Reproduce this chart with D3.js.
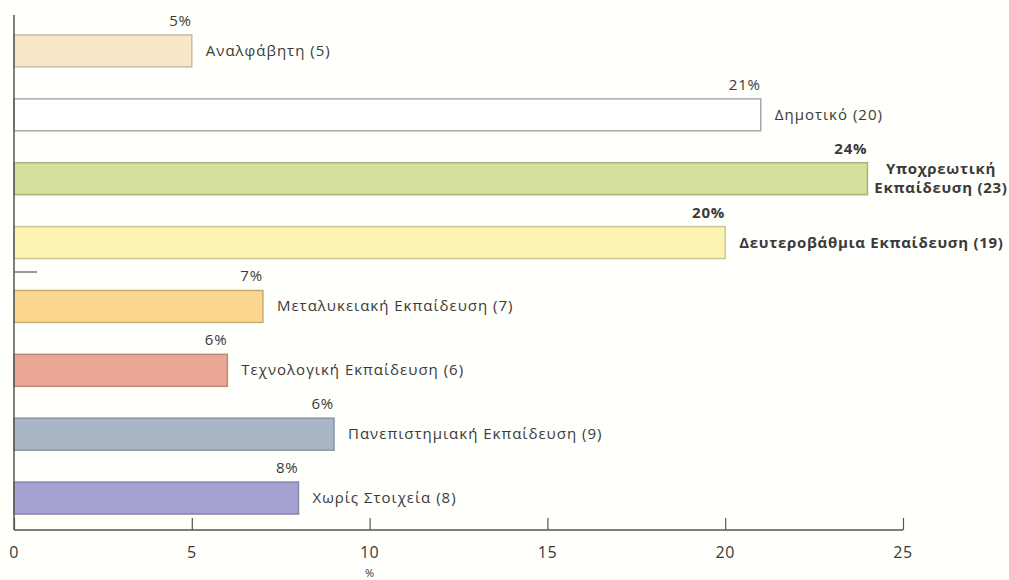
<!DOCTYPE html>
<html>
<head>
<meta charset="utf-8">
<script src="https://cdn.jsdelivr.net/npm/d3@7"></script>
<style>
  body { margin: 0; background: #fffffb; }
  text { font-family: "Open Sans", "Noto Sans", sans-serif; fill: #3a3a3a; }
</style>
</head>
<body>
<div id="vis1"></div>
<script>
// data
var categories = ["Αναλφάβητη (5)", "Δημοτικό (20)", "Υποχρεωτική Εκπαίδευση (23)",
  "Δευτεροβάθμια Εκπαίδευση (19)", "Μεταλυκειακή Εκπαίδευση (7)", "Τεχνολογική Εκπαίδευση (6)",
  "Πανεπιστημιακή Εκπαίδευση (9)", "Χωρίς Στοιχεία (8)"];
var values = [5, 21, 24, 20, 7, 6, 9, 8];
var pctLabels = ["5%", "21%", "24%", "20%", "7%", "6%", "6%", "8%"];
var boldRows = [false, false, true, true, false, false, false, false];
var xTicks = [0, 5, 10, 15, 20, 25];

var fills = ["#fae7c9", "#ffffff", "#d6e09c", "#fdf3b2", "#fdd78f", "#eba796", "#aab5c6", "#a5a1d1"];
var strokes = ["#c9bba6", "#a9a9a9", "#a9b27b", "#cfc68e", "#c8ab73", "#bf8878", "#8b94a3", "#8884ab"];

var width = 1009, height = 580;

var svg = d3.select("#vis1")
  .append("svg")
    .attr("width", width)
    .attr("height", height)
    .style("background", "#fffffb");

var x = d3.scaleLinear()
  .domain([0, 25])
  .range([14, 903]);

var y = d3.scaleBand()
  .domain(categories)
  .range([19, 530])
  .paddingInner(0.5)
  .paddingOuter(0.25);

// bars
svg.selectAll("rect.bar")
  .data(values)
  .enter()
  .append("rect")
  .attr("class", "bar")
  .attr("x", x(0))
  .attr("y", function(d, i) { return y(categories[i]); })
  .attr("width", function(d) { return x(d) - x(0); })
  .attr("height", y.bandwidth())
  .style("fill", function(d, i) { return fills[i]; })
  .style("stroke", function(d, i) { return strokes[i]; })
  .style("stroke-width", 1.5);

// percent labels above bar ends
svg.selectAll("text.pct")
  .data(values)
  .enter()
  .append("text")
  .attr("class", "pct")
  .attr("x", function(d) { return x(d); })
  .attr("y", function(d, i) { return y(categories[i]) - 9; })
  .attr("text-anchor", "end")
  .style("font-size", "15px")
  .style("letter-spacing", "0.8px")
  .style("font-weight", function(d, i) { return boldRows[i] ? "bold" : "normal"; })
  .text(function(d, i) { return pctLabels[i]; });

// category labels
values.forEach(function(d, i) {
  var cy = y(categories[i]) + y.bandwidth() / 2;
  var t = svg.append("text")
    .style("font-size", "15px")
    .style("letter-spacing", boldRows[i] ? "0.7px" : "1px")
    .style("font-weight", boldRows[i] ? "bold" : "normal");
  if (i == 2) {
    // wrapped onto two lines
    var words = categories[i].split(" ");
    t.attr("text-anchor", "middle");
    t.append("tspan").attr("x", 941).attr("y", cy - 5).text(words[0]);
    t.append("tspan").attr("x", 941).attr("y", cy + 14).text(words.slice(1).join(" "));
  } else {
    t.attr("x", x(d) + 14)
      .attr("y", cy + 5)
      .text(categories[i]);
  }
});

// y axis line
svg.append("line")
  .attr("x1", x(0)).attr("x2", x(0))
  .attr("y1", 15).attr("y2", 530)
  .style("stroke", "#555").style("stroke-width", 1.5);

// small stray tick on the left axis
svg.append("line")
  .attr("x1", x(0)).attr("x2", 37)
  .attr("y1", 272).attr("y2", 272)
  .style("stroke", "#555").style("stroke-width", 1.2);

// x axis
var xAxis = svg.append("g")
  .attr("transform", "translate(0,530)")
  .call(d3.axisTop(x).tickValues(xTicks).tickSize(12).tickFormat(""));
xAxis.select(".domain").style("stroke", "#555").style("stroke-width", 1.5)
  .attr("d", "M" + x(0) + ",0H" + x(25));
xAxis.selectAll(".tick line").style("stroke", "#555").style("stroke-width", 1.2);

svg.selectAll("text.xlab")
  .data(xTicks)
  .enter()
  .append("text")
  .attr("class", "xlab")
  .attr("x", function(d) { return x(d); })
  .attr("y", 558)
  .attr("text-anchor", "middle")
  .style("font-size", "16px")
  .style("letter-spacing", "0.5px")
  .text(function(d) { return d; });

svg.append("text")
  .attr("x", x(10))
  .attr("y", 577)
  .attr("text-anchor", "middle")
  .style("font-size", "11px")
  .text("%");
</script>
</body>
</html>
